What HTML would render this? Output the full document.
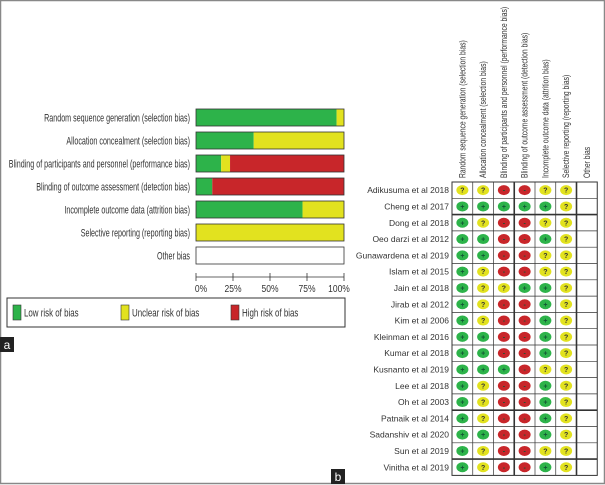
<!DOCTYPE html>
<html><head><meta charset="utf-8"><style>
html,body{margin:0;padding:0;background:#fff;}
svg{display:block;font-family:"Liberation Sans",sans-serif;}
</style></head><body>
<svg id="fig" width="605" height="485" viewBox="0 0 605 485">
<rect x="0.5" y="0.5" width="604" height="483" fill="#fff" stroke="#888" stroke-width="1.5"/>
<g id="panelA"></g>
<g id="panelB"></g>
<rect x="0" y="337" width="14" height="15" fill="#222"/>
<text x="7" y="349" font-size="12" fill="#fff" text-anchor="middle">a</text>
<rect x="331" y="469" width="14" height="15" fill="#222"/>
<text x="338" y="481" font-size="12" fill="#fff" text-anchor="middle">b</text>
</svg>
<script>
const domains = ["Random sequence generation (selection bias)","Allocation concealment (selection bias)","Blinding of participants and personnel (performance bias)","Blinding of outcome assessment (detection bias)","Incomplete outcome data (attrition bias)","Selective reporting (reporting bias)","Other bias"];
const lowPct = [95,39,17,11,72,0,0];
const unclearPct = [5,61,6,0,28,100,0];
const highPct = [0,0,77,89,0,0,0];
const tickVals = [0,25,50,75,100];
const tickLabels = ["0%","25%","50%","75%","100%"];
const studies = ["Adikusuma et al 2018","Cheng et al 2017","Dong et al 2018","Oeo darzi et al 2012","Gunawardena et al 2019","Islam et al 2015","Jain et al 2018","Jirab et al 2012","Kim et al 2006","Kleinman et al 2016","Kumar et al 2018","Kusnanto et al 2019","Lee et al 2018","Oh et al 2003","Patnaik et al 2014","Sadanshiv et al 2020","Sun et al 2019","Vinitha et al 2019"];
const judgments = ["UUHHUU","LLLLLU","LUHHUU","LLHHLU","LLHHUU","LUHHUU","LUULLU","LUHHLU","LUHHLU","LLHHLU","LLHHLU","LLLHUU","LUHHLU","LUHHLU","LUHHLU","LLHHLU","LUHHUU","LUHHLU"];
const colHeaders = domains;

const NS="http://www.w3.org/2000/svg";
const C={L:"#2db34a",U:"#e2e21f",H:"#c8262a"};
function mk(tag,attrs,parent){const e=document.createElementNS(NS,tag);for(const k in attrs)e.setAttribute(k,attrs[k]);parent.appendChild(e);return e;}
function squeeze(t,f){const w=t.getComputedTextLength();t.setAttribute('textLength',(w*f).toFixed(1));t.setAttribute('lengthAdjust','spacingAndGlyphs');}
const A=document.getElementById('panelA'), B=document.getElementById('panelB');
// Panel A
const x0=196,x1=344,by0=109,bstep=23,bh=17;
const xs=v=>x0+(x1-x0)*v/100;
domains.forEach((d,i)=>{
  const y=by0+i*bstep;
  const t=mk('text',{x:190,y:y+12.5,'font-size':11,'text-anchor':'end',fill:'#333'},A);
  
  
  t.textContent=d;
  squeeze(t,0.65);
  let acc=0;
  [[lowPct[i],C.L],[unclearPct[i],C.U],[highPct[i],C.H]].forEach(([v,c])=>{
    if(v>0){const r=mk('rect',{x:xs(acc),y:y,width:xs(acc+v)-xs(acc),height:bh,fill:c},A);
      
      }
    acc+=v;
  });
  const o=mk('rect',{x:x0,y:y,width:x1-x0,height:bh,fill:'none',stroke:'#333','stroke-width':0.8},A);
  
  
});
const ax=mk('line',{x1:x0,x2:x1,y1:277,y2:277,stroke:'#333','stroke-width':0.8},A);


tickVals.forEach((v,i)=>{
  const tk=mk('line',{x1:xs(v),x2:xs(v),y1:273,y2:281,stroke:'#333','stroke-width':0.8},A);
  
  
  const t=mk('text',{x:xs(v)+(i==0?5:i==4?-5:0),y:292,'font-size':10,'text-anchor':'middle',fill:'#333'},A);
  
  
  t.textContent=tickLabels[i];
  squeeze(t,0.85);
});
const lg=mk('rect',{x:7,y:298,width:338,height:29,fill:'#fff',stroke:'#333','stroke-width':1},A);


[["Low risk of bias",C.L,13],["Unclear risk of bias",C.U,121],["High risk of bias",C.H,231]].forEach(([l,c,x])=>{
  const s=mk('rect',{x:x,y:305,width:8,height:15,fill:c,stroke:'#333','stroke-width':0.6},A);
  
  
  const t=mk('text',{x:x+11,y:316.5,'font-size':11,fill:'#333'},A);
  
  
  t.textContent=l;
  squeeze(t,0.72);
});
// Panel B
const gx=452,cw=20.75,gy=182,rh=16.3,nc=7;
const gw=cw*nc, gh=rh*studies.length;
colHeaders.forEach((h,j)=>{
  const cx=gx+cw*j+cw/2+3;
  const t=mk('text',{x:0,y:0,'font-size':9,fill:'#333',transform:`translate(${cx},178) rotate(-90)`},B);
  
  
  t.textContent=h;
  squeeze(t,0.75);
});
studies.forEach((s,i)=>{
  const cy=gy+rh*i+rh/2;
  const t=mk('text',{x:449,y:cy+3,'font-size':8.5,'text-anchor':'end',fill:'#333'},B);
  
  
  t.textContent=s;
  judgments[i].split('').forEach((k,j)=>{
    const cx=gx+cw*j+cw/2;
    const e=mk('ellipse',{cx:cx,cy:cy,rx:6,ry:5,fill:C[k]},B);
    
    
    const g=mk('text',{x:cx,y:cy+2.5,'font-size':7,'font-weight':'bold','text-anchor':'middle',fill:k=='U'?'#333':'#153'},B);
    
    
    g.textContent=k=='L'?'+':k=='U'?'?':'-';
  });
});
const gr=mk('rect',{x:gx,y:gy,width:gw,height:gh,fill:'none',stroke:'#333','stroke-width':1},B);


for(let j=1;j<nc;j++){
  const l=mk('line',{x1:gx+cw*j,x2:gx+cw*j,y1:gy,y2:gy+gh,stroke:'#333','stroke-width':(j==3||j==6)?1.6:0.7},B);
  
  
}
for(let i=1;i<studies.length;i++){
  const l=mk('line',{x1:gx,x2:gx+gw,y1:gy+rh*i,y2:gy+rh*i,stroke:'#333','stroke-width':(i==2||i==14||i==17)?1.6:0.7},B);
  
  
}
</script>
</body></html>
